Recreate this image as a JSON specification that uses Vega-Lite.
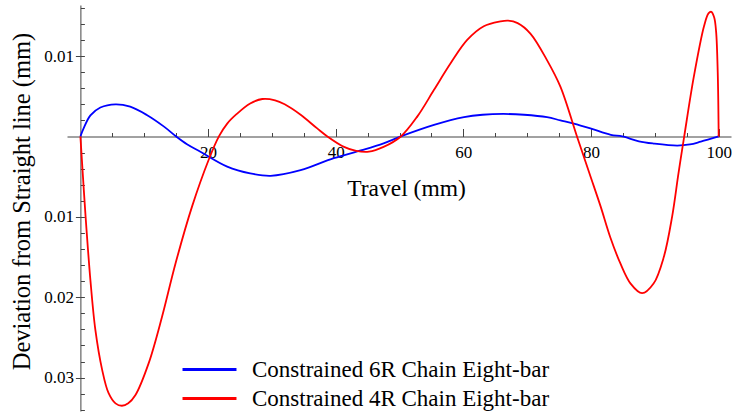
{
  "$schema": "https://vega.github.io/schema/vega-lite/v6.json",
  "autosize": {"type": "none"},
  "padding": {"left": 67, "top": 5, "right": 15, "bottom": 3},
  "width": 664,
  "height": 406,
  "background": "white",
  "config": {
    "view": {"stroke": null},
    "font": "Liberation Serif",
    "axis": {"grid": false, "domainColor": "#444", "tickColor": "#444", "labelColor": "#000", "titleColor": "#000", "labelFont": "Liberation Serif", "titleFont": "Liberation Serif", "labelFontSize": 17, "titleFontSize": 23, "titleFontWeight": "normal"}
  },
  "datasets": {
    "curves": [
      {"x": 0, "y": 0, "s": "Constrained 6R Chain Eight-bar"},
      {"x": 0.5, "y": 0.001, "s": "Constrained 6R Chain Eight-bar"},
      {"x": 1.57, "y": 0.00262, "s": "Constrained 6R Chain Eight-bar"},
      {"x": 3.13, "y": 0.0036, "s": "Constrained 6R Chain Eight-bar"},
      {"x": 5.5, "y": 0.004, "s": "Constrained 6R Chain Eight-bar"},
      {"x": 7.8, "y": 0.0037, "s": "Constrained 6R Chain Eight-bar"},
      {"x": 10.4, "y": 0.00267, "s": "Constrained 6R Chain Eight-bar"},
      {"x": 13.1, "y": 0.00122, "s": "Constrained 6R Chain Eight-bar"},
      {"x": 15.0, "y": 0, "s": "Constrained 6R Chain Eight-bar"},
      {"x": 16.7, "y": -0.00097, "s": "Constrained 6R Chain Eight-bar"},
      {"x": 18.8, "y": -0.0019, "s": "Constrained 6R Chain Eight-bar"},
      {"x": 23.0, "y": -0.00375, "s": "Constrained 6R Chain Eight-bar"},
      {"x": 26.6, "y": -0.0046, "s": "Constrained 6R Chain Eight-bar"},
      {"x": 29.8, "y": -0.0049, "s": "Constrained 6R Chain Eight-bar"},
      {"x": 34.5, "y": -0.0042, "s": "Constrained 6R Chain Eight-bar"},
      {"x": 39.7, "y": -0.0027, "s": "Constrained 6R Chain Eight-bar"},
      {"x": 44.1, "y": -0.0017, "s": "Constrained 6R Chain Eight-bar"},
      {"x": 47.5, "y": -0.00085, "s": "Constrained 6R Chain Eight-bar"},
      {"x": 50.2, "y": 0, "s": "Constrained 6R Chain Eight-bar"},
      {"x": 55.4, "y": 0.00143, "s": "Constrained 6R Chain Eight-bar"},
      {"x": 60.1, "y": 0.0024, "s": "Constrained 6R Chain Eight-bar"},
      {"x": 63.0, "y": 0.0027, "s": "Constrained 6R Chain Eight-bar"},
      {"x": 66.3, "y": 0.0028, "s": "Constrained 6R Chain Eight-bar"},
      {"x": 69.5, "y": 0.0027, "s": "Constrained 6R Chain Eight-bar"},
      {"x": 73.1, "y": 0.0024, "s": "Constrained 6R Chain Eight-bar"},
      {"x": 75.2, "y": 0.002, "s": "Constrained 6R Chain Eight-bar"},
      {"x": 77.3, "y": 0.0016, "s": "Constrained 6R Chain Eight-bar"},
      {"x": 79.9, "y": 0.001, "s": "Constrained 6R Chain Eight-bar"},
      {"x": 83.1, "y": 0.0002, "s": "Constrained 6R Chain Eight-bar"},
      {"x": 84.9, "y": 0, "s": "Constrained 6R Chain Eight-bar"},
      {"x": 87.5, "y": -0.0006, "s": "Constrained 6R Chain Eight-bar"},
      {"x": 89.8, "y": -0.00088, "s": "Constrained 6R Chain Eight-bar"},
      {"x": 93.5, "y": -0.00114, "s": "Constrained 6R Chain Eight-bar"},
      {"x": 95.5, "y": -0.001, "s": "Constrained 6R Chain Eight-bar"},
      {"x": 97.2, "y": -0.00065, "s": "Constrained 6R Chain Eight-bar"},
      {"x": 100, "y": 0, "s": "Constrained 6R Chain Eight-bar"},
      {"x": 0, "y": 0, "s": "Constrained 4R Chain Eight-bar"},
      {"x": 0.4, "y": -0.005, "s": "Constrained 4R Chain Eight-bar"},
      {"x": 0.78, "y": -0.0096, "s": "Constrained 4R Chain Eight-bar"},
      {"x": 1.57, "y": -0.0179, "s": "Constrained 4R Chain Eight-bar"},
      {"x": 2.35, "y": -0.0241, "s": "Constrained 4R Chain Eight-bar"},
      {"x": 3.4, "y": -0.029, "s": "Constrained 4R Chain Eight-bar"},
      {"x": 4.4, "y": -0.0319, "s": "Constrained 4R Chain Eight-bar"},
      {"x": 5.5, "y": -0.0332, "s": "Constrained 4R Chain Eight-bar"},
      {"x": 6.5, "y": -0.0335, "s": "Constrained 4R Chain Eight-bar"},
      {"x": 7.5, "y": -0.0332, "s": "Constrained 4R Chain Eight-bar"},
      {"x": 8.6, "y": -0.0322, "s": "Constrained 4R Chain Eight-bar"},
      {"x": 10.7, "y": -0.0282, "s": "Constrained 4R Chain Eight-bar"},
      {"x": 12.8, "y": -0.0224, "s": "Constrained 4R Chain Eight-bar"},
      {"x": 14.9, "y": -0.0158, "s": "Constrained 4R Chain Eight-bar"},
      {"x": 17.5, "y": -0.0087, "s": "Constrained 4R Chain Eight-bar"},
      {"x": 20.1, "y": -0.0029, "s": "Constrained 4R Chain Eight-bar"},
      {"x": 21.7, "y": 0, "s": "Constrained 4R Chain Eight-bar"},
      {"x": 23.0, "y": 0.0016, "s": "Constrained 4R Chain Eight-bar"},
      {"x": 24.5, "y": 0.0028, "s": "Constrained 4R Chain Eight-bar"},
      {"x": 26.6, "y": 0.0041, "s": "Constrained 4R Chain Eight-bar"},
      {"x": 28.5, "y": 0.00466, "s": "Constrained 4R Chain Eight-bar"},
      {"x": 30.5, "y": 0.0045, "s": "Constrained 4R Chain Eight-bar"},
      {"x": 32.0, "y": 0.004, "s": "Constrained 4R Chain Eight-bar"},
      {"x": 34.5, "y": 0.0027, "s": "Constrained 4R Chain Eight-bar"},
      {"x": 37.1, "y": 0.001, "s": "Constrained 4R Chain Eight-bar"},
      {"x": 38.7, "y": 0, "s": "Constrained 4R Chain Eight-bar"},
      {"x": 41.3, "y": -0.0013, "s": "Constrained 4R Chain Eight-bar"},
      {"x": 43.2, "y": -0.0018, "s": "Constrained 4R Chain Eight-bar"},
      {"x": 45.2, "y": -0.0019, "s": "Constrained 4R Chain Eight-bar"},
      {"x": 47.5, "y": -0.0013, "s": "Constrained 4R Chain Eight-bar"},
      {"x": 50.2, "y": 0, "s": "Constrained 4R Chain Eight-bar"},
      {"x": 52.8, "y": 0.0025, "s": "Constrained 4R Chain Eight-bar"},
      {"x": 55.4, "y": 0.0058, "s": "Constrained 4R Chain Eight-bar"},
      {"x": 58.0, "y": 0.0091, "s": "Constrained 4R Chain Eight-bar"},
      {"x": 60.6, "y": 0.012, "s": "Constrained 4R Chain Eight-bar"},
      {"x": 63.2, "y": 0.0137, "s": "Constrained 4R Chain Eight-bar"},
      {"x": 65.8, "y": 0.0143, "s": "Constrained 4R Chain Eight-bar"},
      {"x": 67.0, "y": 0.0144, "s": "Constrained 4R Chain Eight-bar"},
      {"x": 68.5, "y": 0.0141, "s": "Constrained 4R Chain Eight-bar"},
      {"x": 70.5, "y": 0.0128, "s": "Constrained 4R Chain Eight-bar"},
      {"x": 73.1, "y": 0.0095, "s": "Constrained 4R Chain Eight-bar"},
      {"x": 75.2, "y": 0.0062, "s": "Constrained 4R Chain Eight-bar"},
      {"x": 77.8, "y": 0, "s": "Constrained 4R Chain Eight-bar"},
      {"x": 79.8, "y": -0.0047, "s": "Constrained 4R Chain Eight-bar"},
      {"x": 81.5, "y": -0.0087, "s": "Constrained 4R Chain Eight-bar"},
      {"x": 83.0, "y": -0.0125, "s": "Constrained 4R Chain Eight-bar"},
      {"x": 84.6, "y": -0.0158, "s": "Constrained 4R Chain Eight-bar"},
      {"x": 86.2, "y": -0.0183, "s": "Constrained 4R Chain Eight-bar"},
      {"x": 88.0, "y": -0.0195, "s": "Constrained 4R Chain Eight-bar"},
      {"x": 89.8, "y": -0.0183, "s": "Constrained 4R Chain Eight-bar"},
      {"x": 91.4, "y": -0.015, "s": "Constrained 4R Chain Eight-bar"},
      {"x": 92.7, "y": -0.01, "s": "Constrained 4R Chain Eight-bar"},
      {"x": 93.7, "y": -0.0046, "s": "Constrained 4R Chain Eight-bar"},
      {"x": 94.6, "y": 0, "s": "Constrained 4R Chain Eight-bar"},
      {"x": 96.1, "y": 0.0074, "s": "Constrained 4R Chain Eight-bar"},
      {"x": 97.7, "y": 0.0137, "s": "Constrained 4R Chain Eight-bar"},
      {"x": 98.4, "y": 0.0153, "s": "Constrained 4R Chain Eight-bar"},
      {"x": 98.85, "y": 0.0155, "s": "Constrained 4R Chain Eight-bar"},
      {"x": 99.3, "y": 0.0148, "s": "Constrained 4R Chain Eight-bar"},
      {"x": 99.6, "y": 0.013, "s": "Constrained 4R Chain Eight-bar"},
      {"x": 99.85, "y": 0.008, "s": "Constrained 4R Chain Eight-bar"},
      {"x": 100, "y": 0, "s": "Constrained 4R Chain Eight-bar"}
    ]
  },
  "data": {"name": "curves"},
  "layer": [
    {
      "mark": {"type": "line", "opacity": 0},
      "encoding": {
        "x": {"field": "x", "type": "quantitative", "scale": {"domain": [-2.1, 101.93], "nice": false, "zero": false},
          "axis": {"orient": "bottom", "offset": -274.5, "values": [5, 10, 15, 25, 30, 35, 45, 50, 55, 65, 70, 75, 85, 90, 95], "labels": false, "domain": false, "tickSize": -4, "tickWidth": 1, "title": null}},
        "y": {"field": "y", "type": "quantitative", "scale": {"domain": [-0.03415, 0.01635], "nice": false, "zero": false},
          "axis": {"orient": "left", "offset": -13.4, "values": [-0.034, -0.032, -0.03, -0.028, -0.026, -0.024, -0.022, -0.02, -0.018, -0.016, -0.014, -0.012, -0.01, -0.008, -0.006, -0.004, -0.002, 0.002, 0.004, 0.006, 0.008, 0.01, 0.012, 0.014, 0.016], "labels": false, "domain": false, "tickSize": -4, "tickWidth": 1, "title": null}},
        "detail": {"field": "s"}
      }
    },
    {
      "mark": {"type": "line", "strokeWidth": 1.8, "interpolate": "catmull-rom", "clip": true},
      "encoding": {
        "x": {"field": "x", "type": "quantitative",
          "axis": {"orient": "bottom", "offset": -274.5, "values": [20, 40, 60, 80, 100], "tickSize": -8, "tickWidth": 1, "labelPadding": 16, "labelFlush": false, "labelOverlap": false, "title": "Travel (mm)", "titleX": 339, "titleY": 59, "titleBaseline": "alphabetic", "titleAnchor": "middle", "titleAlign": "center", "titleFontSize": 23.5}},
        "y": {"field": "y", "type": "quantitative",
          "axis": {"orient": "left", "offset": -13.4, "values": [-0.03, -0.02, -0.01, 0.01], "labelExpr": "format(abs(datum.value), '.2f')", "tickSize": 5, "tickWidth": 1, "labelPadding": 2, "labelFlush": false, "labelOverlap": false, "title": "Deviation from Straight line (mm)", "titleX": -58, "titleY": 196, "titleAngle": -90, "titleBaseline": "middle", "titleAlign": "center", "titleAnchor": "middle", "titleFontSize": 24.5}},
        "color": {"field": "s", "type": "nominal",
          "scale": {"domain": ["Constrained 6R Chain Eight-bar", "Constrained 4R Chain Eight-bar"], "range": ["#0000ff", "#ff0000"]},
          "legend": {"title": null, "orient": "none", "legendX": 130, "legendY": 352, "symbolType": "M-2.5,0H2.5", "symbolSize": 466, "symbolStrokeWidth": 3, "labelFont": "Liberation Serif", "labelFontSize": 23, "labelColor": "#000", "labelOffset": 30, "rowPadding": 4, "labelLimit": 0}}
      }
    }
  ],
  "resolve": {"axis": {"x": "independent", "y": "independent"}}
}
